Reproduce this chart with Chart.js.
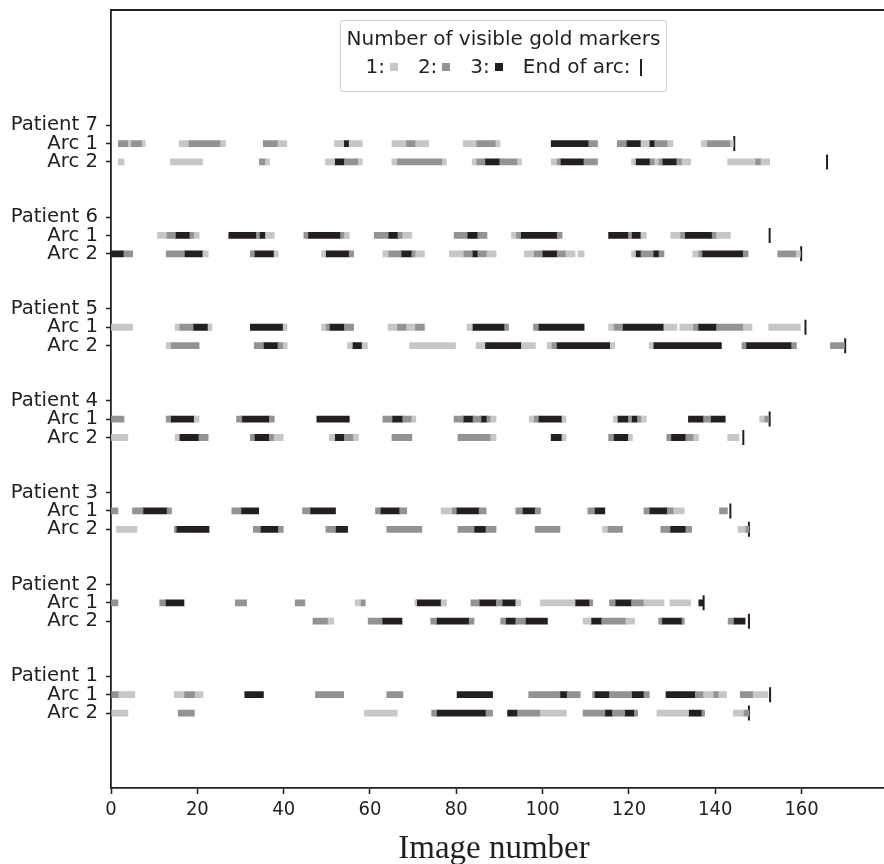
<!DOCTYPE html>
<html>
<head>
<meta charset="utf-8">
<script src="https://cdn.jsdelivr.net/npm/chart.js@4.4.1/dist/chart.umd.min.js"></script>
<style>
    html, body {margin: 0; padding: 0; background: #fff; overflow: hidden;}
    #wrap {position: relative; width: 884px; height: 864px; overflow: hidden;}
    #myChart {position: absolute; left: 0; top: 0;}
    #legend {position: absolute; left: 340px; top: 20px; width: 327px; height: 72px; box-sizing: border-box;
        border: 1px solid #cfcfcf; border-radius: 3px; background: #fff;
        font-family: 'DejaVu Sans', sans-serif; font-size: 20px; color: #231f20;}
    #legend .l1 {position: absolute; left: 0; right: 0; top: 5px; text-align: center; line-height: 24px;}
    #legend .l2 {position: absolute; left: 0; right: 0; top: 33px; text-align: center; line-height: 24px; white-space: nowrap;}
    #legend .sq {display: inline-block; width: 8px; height: 8px; margin: 0 20px 2px 5px; vertical-align: middle;}
    #legend .bar {display: inline-block; width: 2px; height: 17px; margin-left: 9px; background: #231f20; vertical-align: -3px;}
    #xtitle {position: absolute; left: 494px; top: 831px; transform: translateX(-50%); white-space: nowrap;
        font-family: 'Liberation Serif', serif; font-size: 33px; line-height: 33px; color: #231f20;}
</style>
</head>
<body>
<div id="wrap">
    <canvas id="myChart" width="900" height="864"></canvas>
    <div id="legend">
        <div class="l1">Number of visible gold markers</div>
        <div class="l2">1:<i class="sq" style="background:#c7c7c7"></i>2:<i class="sq" style="background:#939393"></i>3:<i class="sq" style="background:#231f20"></i>End of arc:<i class="bar"></i></div>
    </div>
    <div id="xtitle">Image number</div>
</div>
<script>
const patients = ['Patient 1', 'Patient 2', 'Patient 3', 'Patient 4', 'Patient 5', 'Patient 6', 'Patient 7'];
const arcNames = ['Arc 1', 'Arc 2'];
const xTicks = [0, 20, 40, 60, 80, 100, 120, 140, 160];

// segments: [first image, last image, number of visible markers]
const p1a1 = [[0.2,1.8,2],[1.8,5.5,1],[14.7,16.9,1],[16.9,19.5,2],[19.5,21.3,1],[31.0,35.3,3],[47.4,53.9,2],[63.9,67.6,2],[80.2,88.4,3],[96.8,104.0,2],[104.0,105.7,3],[105.7,108.7,2],[111.6,112.0,2],[112.0,115.5,3],[115.5,120.6,2],[120.6,123.5,3],[123.5,124.7,2],[128.6,135.4,3],[135.4,137.3,2],[137.3,139.5,1],[139.5,140.8,2],[140.8,142.6,1],[145.8,148.8,2],[148.8,152.2,1]];
const p1a2 = [[0.2,3.9,1],[15.6,19.3,2],[58.7,66.3,1],[74.3,75.4,2],[75.4,86.9,3],[86.9,88.4,2],[91.9,94.2,3],[94.2,99.5,2],[99.5,105.5,1],[109.4,114.4,2],[114.4,116.2,3],[116.2,119.0,2],[119.0,121.3,3],[121.3,122.0,2],[126.5,133.8,1],[133.8,136.9,3],[136.9,137.5,2],[144.2,146.5,1],[146.5,147.8,2]];
const p2a1 = [[0,1.6,2],[11.3,12.6,2],[12.6,16.9,3],[28.8,31.4,2],[42.7,44.9,2],[56.6,57.8,1],[57.8,58.9,2],[70.4,70.8,1],[70.8,76.5,3],[76.5,77.7,1],[83.4,85.3,2],[85.3,89.3,3],[89.3,90.6,2],[90.6,93.8,3],[93.8,94.9,1],[99.5,107.5,1],[107.5,110.9,3],[110.9,111.6,2],[115.5,116.8,2],[116.8,120.6,3],[120.6,123.5,2],[123.5,128.1,1],[129.5,134.3,1],[136.2,137.3,3]];
const p2a2 = [[46.8,50.3,2],[50.3,51.6,1],[59.6,62.8,2],[62.8,67.4,3],[74.1,75.4,2],[75.4,83.0,3],[83.0,84.1,2],[90.3,91.4,2],[91.4,93.8,3],[93.8,96.0,2],[96.0,101.1,3],[109.4,111.2,1],[111.2,113.7,3],[113.7,119.3,2],[119.3,121.3,1],[126.9,127.6,2],[127.6,132.3,3],[132.3,132.8,2],[143.0,144.2,2],[144.2,146.9,3]];
const p3a1 = [[0,1.6,2],[5.0,7.4,2],[7.4,13.0,3],[13.0,14.0,2],[28.0,30.1,2],[30.1,34.2,3],[44.4,46.1,2],[46.1,52.0,3],[61.3,62.4,2],[62.4,66.9,3],[66.9,68.5,2],[76.5,78.9,1],[78.9,80.0,2],[80.0,85.3,3],[85.3,86.9,2],[93.8,95.3,2],[95.3,98.3,3],[98.3,99.5,2],[110.5,112.0,2],[112.0,114.4,3],[123.5,124.7,2],[124.7,128.9,3],[128.9,130.4,2],[130.4,132.8,1],[141.0,142.8,2]];
const p3a2 = [[1.3,6.0,1],[14.7,15.1,2],[15.1,22.7,3],[33.0,34.6,2],[34.6,38.8,3],[38.8,39.9,2],[49.8,52.0,2],[52.0,54.8,3],[63.9,72.0,2],[80.4,84.1,2],[84.1,86.9,3],[86.9,89.2,2],[98.3,104.0,2],[113.9,115.0,1],[115.0,118.5,2],[127.4,129.5,2],[129.5,133.2,3],[133.2,134.5,2],[145.3,146.9,1],[146.9,147.8,2]];
const p4a1 = [[0,3.0,2],[12.8,13.8,2],[13.8,19.3,3],[19.3,20.4,1],[29.1,30.3,2],[30.3,36.7,3],[36.7,37.8,2],[47.7,55.2,3],[63.0,65.1,2],[65.1,67.6,3],[67.6,69.7,2],[69.7,70.6,1],[79.5,81.6,2],[81.6,83.9,3],[83.9,85.7,2],[85.7,87.1,3],[87.1,88.0,2],[88.0,89.2,1],[96.9,97.9,1],[97.9,99.0,2],[99.0,104.5,3],[104.5,105.4,1],[116.4,117.3,1],[117.3,119.9,3],[119.9,120.6,2],[120.6,122.0,3],[122.0,122.9,2],[122.9,124.0,1],[133.8,137.3,3],[137.3,138.9,2],[138.9,142.3,3],[150.3,151.3,1],[151.3,152.4,2]];
const p4a2 = [[0,3.9,1],[14.9,15.8,1],[15.8,20.4,3],[20.4,22.5,2],[32.3,33.2,2],[33.2,36.7,3],[36.7,37.8,2],[37.8,39.9,1],[50.6,51.8,1],[51.8,54.1,3],[54.1,56.2,2],[56.2,57.3,1],[65.1,69.7,2],[80.4,88.0,2],[88.0,89.2,1],[102.0,104.5,3],[104.5,105.4,1],[115.3,116.4,2],[116.4,119.9,3],[119.9,120.8,1],[128.8,129.7,2],[129.7,133.2,3],[133.2,135.0,2],[135.0,136.1,1],[142.9,145.5,1]];
const p5a1 = [[0,5.0,1],[14.9,15.8,1],[15.8,19.0,2],[19.0,22.5,3],[22.5,23.4,1],[32.3,39.9,3],[39.9,40.8,1],[48.8,49.7,1],[49.7,50.6,2],[50.6,54.1,3],[54.1,56.2,2],[64.2,66.2,1],[66.2,68.5,2],[68.5,70.4,1],[70.4,72.6,2],[82.5,83.7,1],[83.7,91.2,3],[91.2,92.1,2],[97.9,99.0,2],[99.0,109.6,3],[115.3,116.4,1],[116.4,118.5,2],[118.5,128.1,3],[128.1,131.1,1],[131.8,134.8,1],[134.8,136.0,2],[136.0,140.3,3],[140.3,146.5,2],[146.5,148.5,1],[152.4,159.7,1]];
const p5a2 = [[12.8,13.8,1],[13.8,20.4,2],[33.2,35.3,2],[35.3,38.7,3],[38.7,39.9,2],[39.9,40.8,1],[54.8,55.9,1],[55.9,58.2,3],[58.2,59.4,1],[69.2,79.8,1],[84.6,86.6,1],[86.6,95.1,3],[95.1,98.3,1],[101.1,102.0,1],[102.0,103.2,2],[103.2,115.7,3],[115.7,116.7,1],[124.7,125.6,1],[125.6,141.4,3],[146.2,147.1,2],[147.1,157.7,3],[157.7,158.8,2],[166.7,169.9,2]];
const p6a1 = [[10.8,12.8,1],[12.8,14.9,2],[14.9,18.3,3],[18.3,19.3,2],[19.3,20.4,1],[27.3,33.7,3],[33.7,34.4,2],[34.4,35.8,3],[35.8,37.8,1],[44.7,45.6,2],[45.6,53.2,3],[53.2,54.1,2],[54.1,55.2,1],[61.0,64.2,2],[64.2,66.5,3],[66.5,67.6,2],[67.6,69.7,1],[79.5,82.5,2],[82.5,85.0,3],[85.0,87.1,2],[92.8,93.8,1],[93.8,94.9,2],[94.9,103.4,3],[103.4,104.5,2],[115.3,119.9,3],[119.9,120.6,2],[120.6,122.8,3],[122.8,124.0,1],[129.7,131.8,1],[131.8,132.9,2],[132.9,139.3,3],[139.3,140.3,2],[140.3,143.5,1]];
const p6a2 = [[0,3.0,3],[3.0,5.0,2],[12.8,17.0,2],[17.0,21.3,3],[21.3,22.5,1],[32.3,33.2,2],[33.2,37.8,3],[37.8,38.7,1],[48.8,49.7,1],[49.7,55.2,3],[55.2,56.2,2],[63.0,64.2,1],[64.2,67.2,2],[67.2,69.7,3],[69.7,70.6,2],[70.6,72.6,1],[78.4,81.6,1],[81.6,83.7,2],[83.7,85.0,3],[85.0,87.1,2],[87.1,89.2,1],[95.8,97.9,1],[97.9,99.9,2],[99.9,103.4,3],[103.4,105.4,2],[105.4,107.5,1],[108.2,109.6,1],[120.6,121.5,1],[121.5,122.8,3],[122.8,125.6,2],[125.6,127.0,3],[127.0,128.1,2],[134.8,136.0,1],[136.0,136.9,2],[136.9,146.5,3],[146.5,147.6,2],[154.5,158.8,2],[158.8,159.7,1]];
const p7a1 = [[1.7,4.0,2],[4.0,4.6,1],[4.6,7.2,2],[7.2,7.9,1],[15.8,17.9,1],[17.9,25.4,2],[25.4,26.5,1],[35.3,38.7,2],[38.7,40.7,1],[51.8,53.9,1],[53.9,55.2,3],[55.2,58.2,1],[65.1,68.3,1],[68.3,70.6,2],[70.6,73.6,1],[81.6,84.6,1],[84.6,89.2,2],[89.2,90.1,1],[102.0,110.7,3],[110.7,112.7,2],[117.3,119.4,2],[119.4,122.8,3],[122.8,124.7,1],[124.7,126.0,3],[126.0,129.0,2],[129.0,130.2,1],[136.8,138.0,1],[138.0,143.5,2],[143.5,144.2,1]];
const p7a2 = [[1.7,3.0,1],[13.8,21.2,1],[34.4,35.8,2],[35.8,36.7,1],[49.7,51.8,1],[51.8,54.1,3],[54.1,57.3,2],[57.3,58.2,1],[65.1,66.2,1],[66.2,76.8,2],[76.8,77.7,1],[83.7,84.6,1],[84.6,86.6,2],[86.6,90.1,3],[90.1,94.2,2],[94.2,95.1,1],[102.0,103.2,1],[103.2,104.1,2],[104.1,109.6,3],[109.6,112.7,2],[120.6,121.5,1],[121.5,124.9,3],[124.9,126.0,2],[126.0,126.8,1],[126.8,127.7,2],[127.7,131.1,3],[131.1,132.3,2],[132.3,134.3,1],[142.9,149.2,1],[149.2,150.6,2],[150.6,152.6,1]];

// last image of each arc, patient 1..7
const arcEnd1 = [152.7, 137.3, 143.5, 152.6, 160.9, 152.6, 144.4];
const arcEnd2 = [147.8, 147.8, 147.8, 146.5, 170.1, 159.9, 165.9];

const segs = [[p1a1, p1a2], [p2a1, p2a2], [p3a1, p3a2], [p4a1, p4a2], [p5a1, p5a2], [p6a1, p6a2], [p7a1, p7a2]];
const levelColors = ['#c7c7c7', '#939393', '#231f20'];
const ink = '#231f20';

// row positions: Arc 2 at 5*i, Arc 1 at 5*i+1, patient name at 5*i+2
const rowOf = (i, a) => i * 5 + (a === 0 ? 1 : 0);
const yTickVals = [], yTickLabels = [];
patients.forEach(function (p, i) {
    yTickVals.push(i * 5, i * 5 + 1, i * 5 + 2);
    yTickLabels.push(arcNames[1], arcNames[0], p);
});

const barSets = levelColors.map(function (c, k) {
    return {
        type: 'bar', label: String(k + 1), data: [], backgroundColor: c,
        grouped: false, maxBarThickness: 6, borderWidth: 0, borderSkipped: false, inflateAmount: 0.4
    };
});
segs.forEach(function (pair, i) {
    pair.forEach(function (list, a) {
        list.forEach(function (s) {
            barSets[s[2] - 1].data.push({x: [s[0], s[1]], y: rowOf(i, a)});
        });
    });
});

const ends = [];
patients.forEach(function (p, i) {
    ends.push({x: arcEnd1[i], y: rowOf(i, 0)});
    ends.push({x: arcEnd2[i], y: rowOf(i, 1)});
});

const topSpine = {
    id: 'topSpine',
    afterDraw(chart) {
        const {ctx, chartArea} = chart;
        ctx.save();
        ctx.strokeStyle = ink;
        ctx.lineWidth = 1.8;
        ctx.beginPath();
        ctx.moveTo(chartArea.left - 0.9, chartArea.top);
        ctx.lineTo(chartArea.right, chartArea.top);
        ctx.stroke();
        ctx.restore();
    }
};

Chart.defaults.color = ink;
Chart.defaults.font.family = "'DejaVu Sans', sans-serif";

new Chart(document.getElementById('myChart'), {
    type: 'bar',
    data: {
        datasets: barSets.concat([{
            type: 'scatter', label: 'End of arc', data: ends,
            pointStyle: 'line', rotation: 90, radius: 7.5, borderWidth: 2,
            borderColor: ink, backgroundColor: ink, showLine: false
        }])
    },
    options: {
        indexAxis: 'y',
        responsive: false,
        animation: false,
        events: [],
        layout: {padding: {top: 10, left: 0, right: 1, bottom: 0}},
        plugins: {legend: {display: false}, tooltip: {enabled: false}},
        scales: {
            x: {
                type: 'linear', min: 0, max: 180.6,
                afterBuildTicks: function (s) { s.ticks = xTicks.map(v => ({value: v})); },
                afterFit: function (s) { s.height = 76; s.paddingLeft = 0; s.paddingRight = 0; },
                grid: {drawOnChartArea: false, drawTicks: true, tickLength: 6, tickWidth: 1.5, tickColor: ink},
                border: {display: true, color: ink, width: 1.8},
                ticks: {
                    padding: 4, maxRotation: 0, autoSkip: false,
                    font: {family: "'Liberation Sans Narrow', 'DejaVu Sans Condensed', 'Liberation Sans', sans-serif", size: 20}
                }
            },
            y: {
                type: 'linear', min: -4.08, max: 38.27, offset: false,
                afterBuildTicks: function (s) { s.ticks = yTickVals.map(v => ({value: v})); },
                afterFit: function (s) { s.width = 111; s.paddingTop = 0; s.paddingBottom = 0; },
                grid: {drawOnChartArea: false, drawTicks: true, offset: false, tickLength: 5, tickWidth: 1.5, tickColor: ink},
                border: {display: true, color: ink, width: 1.8},
                ticks: {
                    padding: 8, autoSkip: false,
                    font: {size: 19.7},
                    callback: function (v, idx) { return yTickLabels[idx]; }
                }
            }
        }
    },
    plugins: [topSpine]
});
</script>
</body>
</html>
